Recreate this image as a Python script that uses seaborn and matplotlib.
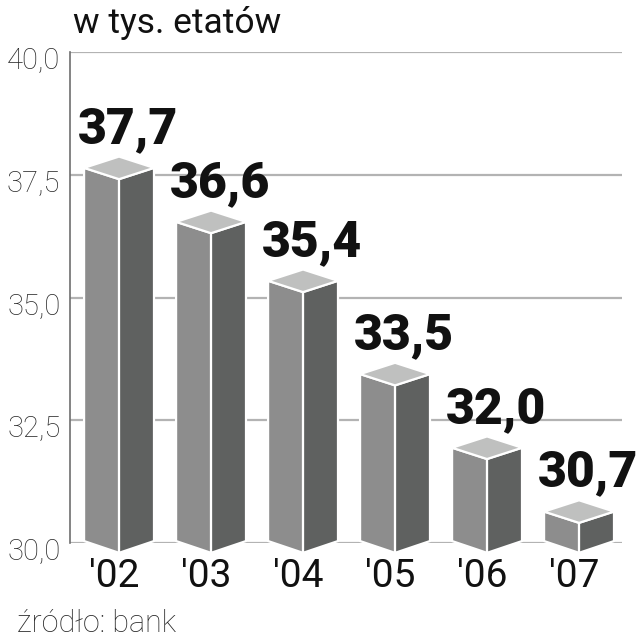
import matplotlib
matplotlib.use('Agg')
import matplotlib.pyplot as plt
import seaborn as sns
import pandas as pd
from matplotlib.patches import Polygon
from matplotlib.transforms import ScaledTranslation

years = ["'02", "'03", "'04", "'05", "'06", "'07"]
values = [37.7, 36.6, 35.4, 33.5, 32.0, 30.7]
value_labels = ["37,7", "36,6", "35,4", "33,5", "32,0", "30,7"]
y_ticks = [30.0, 32.5, 35.0, 37.5, 40.0]
y_tick_labels = ["30,0", "32,5", "35,0", "37,5", "40,0"]
title = "w tys. etatów"
source = "źródło: bank"

sns.set_theme(style='white')
plt.rcParams['font.family'] = ['Roboto', 'DejaVu Sans']

FRONT = '#8d8d8d'
SIDE = '#5f6160'
TOP = '#bfc0bf'
TEXT = '#111111'

df = pd.DataFrame({'year': years, 'value': values})

fig = plt.figure(figsize=(6.4, 6.4), dpi=100)
ax = fig.add_axes([70 / 640, 97 / 640, 552 / 640, 491 / 640])
sns.barplot(data=df, x='year', y='value', order=years, width=0.76,
            color=FRONT, saturation=1, errorbar=None, ax=ax)
ymin, ymax = 30, 40
ax.set_ylim(ymin, ymax)
ax.set_xlim(-0.533, 5.467)

for p, lab in zip(ax.patches, value_labels):
    c = p.get_x() + p.get_width() / 2
    hw = p.get_width() / 2
    v = p.get_height()
    p.set_visible(False)
    side_top = v - 0.06
    front_top = v - 0.29
    back_top = v + 0.17
    side_bot = ymin + 0.04
    front_bot = ymin - 0.2
    faces = [
        ([(c - hw, side_bot), (c, front_bot), (c, front_top), (c - hw, side_top)], FRONT),
        ([(c, front_bot), (c + hw, side_bot), (c + hw, side_top), (c, front_top)], SIDE),
        ([(c - hw, side_top), (c, back_top), (c + hw, side_top), (c, front_top)], TOP),
    ]
    for pts, col in faces:
        ax.add_patch(Polygon(pts, closed=True, facecolor=col, edgecolor='white',
                             lw=1.6, joinstyle='miter', clip_on=False, zorder=3))
    ax.text(c + 0.1, v + 0.45, lab, ha='center', va='baseline', fontsize=36,
            fontweight='black', color=TEXT, zorder=4)

ax.set_xlabel('')
ax.set_ylabel('')
ax.set_yticks(y_ticks, y_tick_labels)
ax.tick_params(axis='y', length=0, pad=7, labelsize=21, labelcolor='#2a2a2a')
ax.tick_params(axis='x', length=0, pad=11, labelsize=28, labelcolor=TEXT)
for t in ax.get_yticklabels():
    t.set_fontweight('light')
    t.set_transform(t.get_transform() + ScaledTranslation(0, -0.06, fig.dpi_scale_trans))
for t in ax.get_xticklabels():
    t.set_transform(t.get_transform() + ScaledTranslation(-0.05, 0, fig.dpi_scale_trans))

ax.yaxis.grid(True, color='#b3b3b3', lw=1.6)
ax.xaxis.grid(False)
ax.set_axisbelow(True)
sns.despine(ax=ax, top=True, right=True, bottom=True, left=False)
ax.spines['left'].set_color('#6e6e6e')
ax.spines['left'].set_linewidth(1.2)

fig.text(73 / 640, 1 - 33 / 640, title, ha='left', va='baseline', fontsize=25.5, color=TEXT)
fig.text(17 / 640, 1 - 632 / 640, source, ha='left', va='baseline', fontsize=22,
         fontweight='light', color='#2a2a2a')

fig.savefig('out.png', dpi=100)
